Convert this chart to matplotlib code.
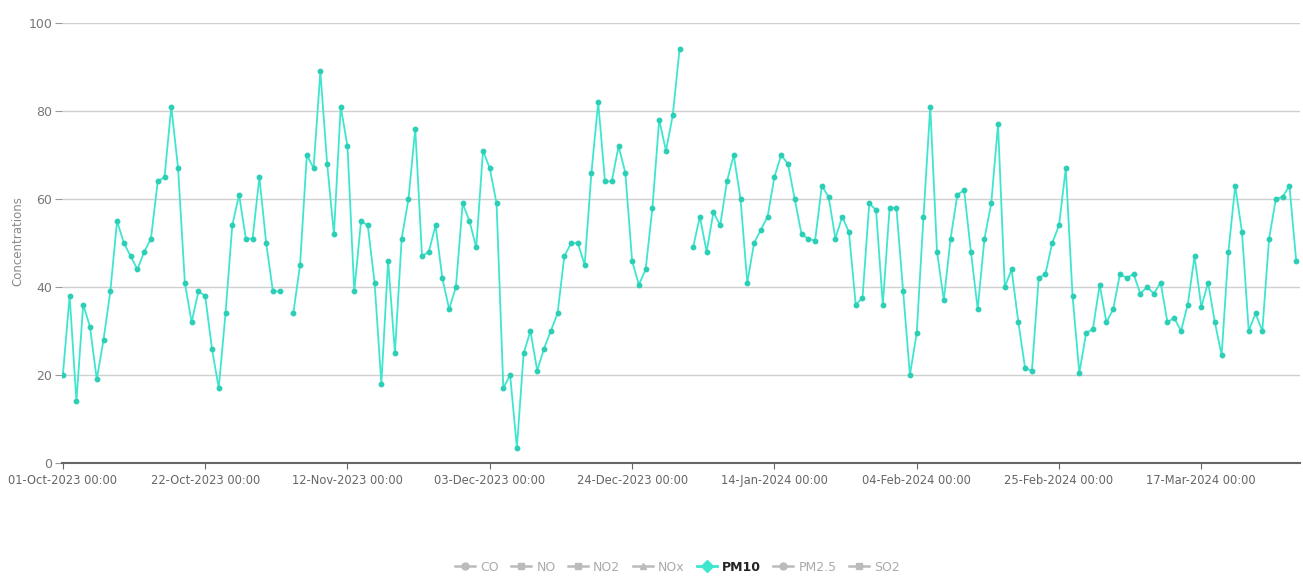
import numpy as np
import pandas as pd
import matplotlib
matplotlib.use("Agg")
import matplotlib.pyplot as plt
from matplotlib.lines import Line2D

plt.rcParams['font.family'] = ['DejaVu Sans']

start_date = "2023-10-01"
pm10 = [20, 38, 14, 36, 31, 19, 28, 39, 55, 50, 47, 44, 48, 51, 64, 65, 81, 67, 41,
        32, 39, 38, 26, 17, 34, 54, 61, 51, 51, 65, 50, 39, 39,
        np.nan,
        34, 45, 70, 67, 89, 68,
        52, 81, 72, 39, 55, 54, 41, 18, 46, 25, 51, 60, 76, 47, 48, 54, 42, 35, 40, 59,
        55, 49, 71, 67, 59, 17, 20, 3.5, 25, 30, 21, 26, 30, 34, 47, 50, 50, 45, 66, 82, 64,
        64, 72, 66, 46, 40.5, 44, 58, 78, 71, 79, 94,
        np.nan,
        49, 56, 48, 57, 54, 64, 70, 60, 41,
        50, 53, 56, 65, 70, 68, 60, 52, 51, 50.5, 63, 60.5, 51, 56, 52.5, 36, 37.5, 59, 57.5, 36, 58,
        58, 39, 20, 29.5, 56, 81, 48, 37, 51, 61, 62, 48, 35, 51, 59, 77, 40, 44, 32, 21.5,
        21, 42, 43, 50, 54, 67, 38, 20.5, 29.5, 30.5, 40.5, 32, 35, 43, 42, 43, 38.5, 40, 38.5, 41, 32,
        33, 30, 36, 47, 35.5, 41, 32, 24.5, 48, 63, 52.5, 30, 34, 30, 51, 60, 60.5, 63, 46]
dates = pd.date_range(start_date, periods=len(pm10), freq="D")

legend_names = ["CO", "NO", "NO2", "NOx", "PM10", "PM2.5", "SO2"]
legend_markers = ["o", "s", "s", "^", "D", "o", "s"]
active = "PM10"

y_ticks = [0, 20, 40, 60, 80, 100]
x_ticks = pd.date_range(start_date, periods=9, freq="21D")

line_color = "#3fe6cf"
marker_color = "#2ccfb6"

fig = plt.figure(figsize=(13.03, 5.8), dpi=100)
ax = fig.add_axes([0.0476, 0.2017, 0.9502, 0.7586])

ax.plot(dates, pm10, color=line_color, lw=1.3, marker="o", ms=3.2,
        markerfacecolor=marker_color, markeredgecolor=marker_color, zorder=3)

ax.set_ylim(0, 100)
ax.set_xlim(dates[0] - pd.Timedelta(hours=3), dates[-1] + pd.Timedelta(hours=14))
ax.set_yticks(y_ticks)
ax.set_xticks(x_ticks)
ax.set_xticklabels([d.strftime("%d-%b-%Y %H:%M") for d in x_ticks])
ax.grid(axis="y", color="#d0d0d0", lw=1)
ax.set_axisbelow(True)
for s in ["top", "right", "left"]:
    ax.spines[s].set_visible(False)
ax.spines["bottom"].set_color("#666666")
ax.spines["bottom"].set_linewidth(1.5)
ax.tick_params(axis="y", length=5, color="#999999", labelcolor="#777777", labelsize=9, pad=2)
ax.tick_params(axis="x", length=4, color="#666666", labelcolor="#666666", labelsize=8.3, pad=4)
fig.text(0.0138, 0.585, "Concentrations", rotation=90, color="#888888", fontsize=8.5,
         ha="center", va="center")

handles = []
for name, mk in zip(legend_names, legend_markers):
    if name == active:
        handles.append(Line2D([], [], color=line_color, marker=mk, ms=6, lw=2,
                              markerfacecolor=line_color, markeredgecolor=line_color))
    else:
        handles.append(Line2D([], [], color="#bbbbbb", marker=mk, ms=5, lw=1.8,
                              markerfacecolor="#bbbbbb", markeredgecolor="#bbbbbb"))
leg = fig.legend(handles, legend_names, loc="center", bbox_to_anchor=(0.52, 0.022),
                 ncol=7, frameon=False, fontsize=9, handlelength=1.6,
                 handletextpad=0.4, columnspacing=1.0)
for t in leg.get_texts():
    if t.get_text() == active:
        t.set_color("#222222")
        t.set_fontweight("bold")
    else:
        t.set_color("#aaaaaa")

fig.savefig("out.png", dpi=100)
